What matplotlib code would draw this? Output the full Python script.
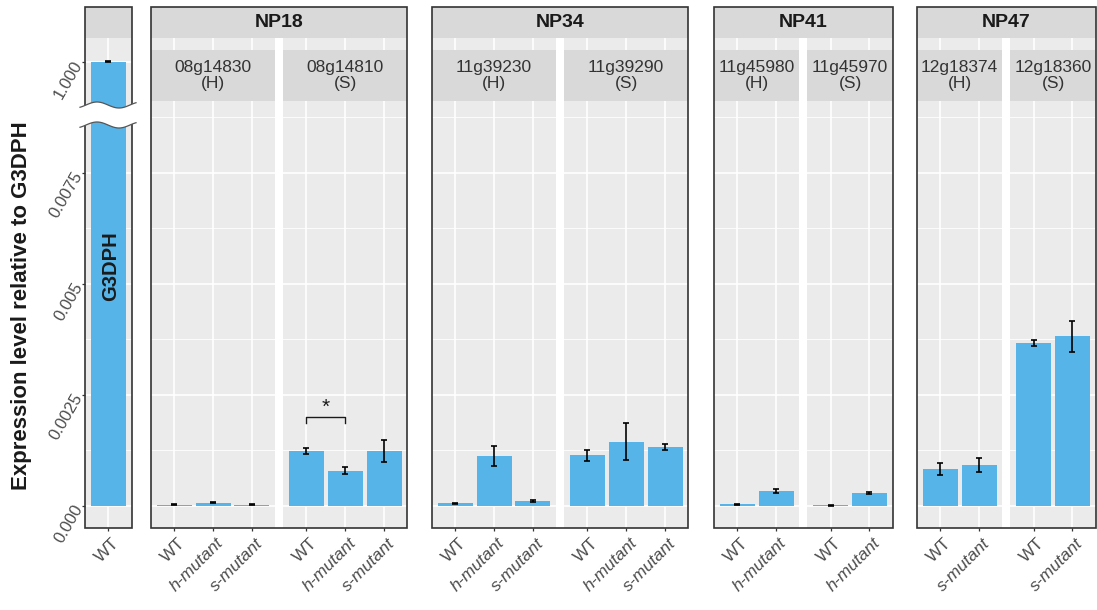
import numpy as np
import matplotlib
matplotlib.use("Agg")
import matplotlib.pyplot as plt
from matplotlib.patches import Rectangle, Polygon
from matplotlib.lines import Line2D
import matplotlib.transforms as mtransforms

plt.rcParams["font.family"] = ["Liberation Sans", "DejaVu Sans"]

# ---------------- data ----------------
ref_gene = "G3DPH"
ref_cats = ["WT"]
ref_vals = [1.0]
ref_errs = [0.0015]

groups = ["NP18", "NP34", "NP41", "NP47"]

np18_h_label = "08g14830\n(H)"
np18_h_cats = ["WT", "h-mutant", "s-mutant"]
np18_h_vals = [0.00002, 0.00006, 0.00002]
np18_h_errs = [0.00001, 0.00001, 0.00001]

np18_s_label = "08g14810\n(S)"
np18_s_cats = ["WT", "h-mutant", "s-mutant"]
np18_s_vals = [0.00123, 0.00078, 0.00123]
np18_s_errs = [0.00006, 0.00008, 0.00025]

np34_h_label = "11g39230\n(H)"
np34_h_cats = ["WT", "h-mutant", "s-mutant"]
np34_h_vals = [0.00005, 0.00112, 0.00010]
np34_h_errs = [0.00001, 0.00022, 0.00002]

np34_s_label = "11g39290\n(S)"
np34_s_cats = ["WT", "h-mutant", "s-mutant"]
np34_s_vals = [0.00113, 0.00144, 0.00132]
np34_s_errs = [0.00013, 0.00041, 0.00007]

np41_h_label = "11g45980\n(H)"
np41_h_cats = ["WT", "h-mutant"]
np41_h_vals = [0.00003, 0.00033]
np41_h_errs = [0.00001, 0.00004]

np41_s_label = "11g45970\n(S)"
np41_s_cats = ["WT", "h-mutant"]
np41_s_vals = [0.00001, 0.00028]
np41_s_errs = [0.00001, 0.00003]

np47_h_label = "12g18374\n(H)"
np47_h_cats = ["WT", "s-mutant"]
np47_h_vals = [0.00082, 0.00091]
np47_h_errs = [0.00013, 0.00015]

np47_s_label = "12g18360\n(S)"
np47_s_cats = ["WT", "s-mutant"]
np47_s_vals = [0.00366, 0.00381]
np47_s_errs = [0.00006, 0.00035]

y_ticks = [0.0, 0.0025, 0.005, 0.0075, 1.0]
y_tick_labels = ["0.000", "0.0025", "0.005", "0.0075", "1.000"]
y_minor = [0.00125, 0.00375, 0.00625, 0.00875]
y_label = "Expression level relative to G3DPH"

sig_pair = (1, 2)
sig_y = 0.00199
sig_text = "*"

# ---------------- style / layout ----------------
W, H, DPI = 1097, 610, 100
BLUE = "#56B4E9"
PANEL = "#EBEBEB"
STRIP = "#D9D9D9"
FRAME = "#333333"
TICKC = "#4D4D4D"

U = 38.8          # px per category unit
SUBGAP = 8
TOP, BOT, FTOP = 38, 528, 7
SUB_T, SUB_B = 50, 101
Y0PX, PXPU = 505.5, 44400.0

T = 0.009
C = 0.001 / 0.991


def fwd(y):
    y = np.asarray(y, dtype=float)
    return np.where(y <= T, y, T + (y - T) * C)


def inv(t):
    t = np.asarray(t, dtype=float)
    return np.where(t <= T, t, T + (t - T) / C)


ylo = float(inv((Y0PX - BOT) / PXPU))
yhi = float(inv((Y0PX - TOP) / PXPU))


def fx(x):
    return x / W


def fy(y):
    return 1 - y / H


fig = plt.figure(figsize=(W / DPI, H / DPI), dpi=DPI)


def make_axes(left_px, n):
    w = (n + 0.2) * U
    ax = fig.add_axes([fx(left_px), fy(BOT), w / W, (BOT - TOP) / H])
    ax.set_facecolor(PANEL)
    ax.set_yscale("function", functions=(fwd, inv))
    ax.set_ylim(ylo, yhi)
    ax.set_xlim(0.4, n + 0.6)
    for s in ax.spines.values():
        s.set_visible(False)
    ax.set_yticks(y_ticks)
    ax.set_yticks(y_minor, minor=True)
    ax.grid(which="major", color="white", lw=1.2, zorder=0)
    ax.grid(which="minor", axis="y", color="white", lw=0.6, zorder=0)
    ax.set_axisbelow(True)
    ax.tick_params(which="minor", length=0)
    ax.tick_params(axis="x", length=2.5, width=0.9, color=FRAME, pad=1.5)
    ax.tick_params(axis="y", left=False, labelleft=False)
    return ax, w


def draw_bars(ax, cats, vals, errs):
    x = np.arange(1, len(cats) + 1)
    ax.bar(x, vals, width=0.9, color=BLUE, zorder=2)
    ax.errorbar(x, vals, yerr=errs, fmt="none", ecolor="black",
                elinewidth=1.2, capsize=2.3, capthick=1.2, zorder=3)
    ax.set_xticks(x)
    ax.set_xticklabels(cats, rotation=45, ha="right", va="top",
                       rotation_mode="anchor", fontsize=12.5, color=TICKC)
    off = mtransforms.ScaledTranslation(3 / DPI, -2 / DPI, fig.dpi_scale_trans)
    for lab, c in zip(ax.get_xticklabels(), cats):
        if "mutant" in c:
            lab.set_fontstyle("italic")
        lab.set_transform(lab.get_transform() + off)


def frame(left, right):
    r = Rectangle((fx(left), fy(BOT)), (right - left) / W, (BOT - FTOP) / H,
                  fill=False, ec=FRAME, lw=1.2, transform=fig.transFigure, zorder=10)
    fig.add_artist(r)
    s = Rectangle((fx(left), fy(TOP)), (right - left) / W, (TOP - FTOP) / H,
                  fc=STRIP, ec="none", transform=fig.transFigure, zorder=5)
    fig.add_artist(s)


def substrip(left, right, label):
    s = Rectangle((fx(left), fy(SUB_B)), (right - left) / W, (SUB_B - SUB_T) / H,
                  fc=STRIP, ec="none", transform=fig.transFigure, zorder=5)
    fig.add_artist(s)
    fig.text(fx((left + right) / 2), fy((SUB_T + SUB_B) / 2), label, ha="center",
             va="center", fontsize=12.5, color="#333333", linespacing=1.1, zorder=6)


# ---------------- reference panel ----------------
ax0, w0 = make_axes(85, 1)
draw_bars(ax0, ref_cats, ref_vals, ref_errs)
ax0.tick_params(axis="y", left=True, labelleft=True, length=2.5, width=0.9,
                color=FRAME, pad=2)
ax0.set_yticklabels(y_tick_labels)
for lab in ax0.get_yticklabels():
    lab.set_rotation(60)
    lab.set_rotation_mode("anchor")
    lab.set_ha("right")
    lab.set_va("center")
    lab.set_fontsize(12)
    lab.set_color(TICKC)
frame(85, 85 + w0)
fig.text(fx(116), fy(266), ref_gene, rotation=90, rotation_mode="anchor",
         ha="center", va="baseline", fontsize=14.5, fontweight="bold",
         color="#1A1A1A", zorder=6)

# break marks
xs = np.linspace(80, 136, 60)
wave = -3 * np.sin(2 * np.pi * (xs - 86) / 44)
top_c = 105 + wave
bot_c = 125 + wave
poly = np.vstack([np.column_stack([xs, top_c]), np.column_stack([xs[::-1], bot_c[::-1]])])
poly_fig = np.column_stack([fx(poly[:, 0]), fy(poly[:, 1])])
fig.add_artist(Polygon(poly_fig, closed=True, fc="white", ec="none",
                       transform=fig.transFigure, zorder=11))
for cy in (top_c, bot_c):
    fig.add_artist(Line2D(fx(xs), fy(cy), color="#555555", lw=0.9,
                          transform=fig.transFigure, zorder=12))

# ---------------- gene panels ----------------
panel_sets = [
    ("NP18", 151, [(np18_h_label, np18_h_cats, np18_h_vals, np18_h_errs),
                   (np18_s_label, np18_s_cats, np18_s_vals, np18_s_errs)]),
    ("NP34", 432, [(np34_h_label, np34_h_cats, np34_h_vals, np34_h_errs),
                   (np34_s_label, np34_s_cats, np34_s_vals, np34_s_errs)]),
    ("NP41", 714, [(np41_h_label, np41_h_cats, np41_h_vals, np41_h_errs),
                   (np41_s_label, np41_s_cats, np41_s_vals, np41_s_errs)]),
    ("NP47", 917, [(np47_h_label, np47_h_cats, np47_h_vals, np47_h_errs),
                   (np47_s_label, np47_s_cats, np47_s_vals, np47_s_errs)]),
]

for gname, gleft, subs in panel_sets:
    left = gleft
    for i, (lab, cats, vals, errs) in enumerate(subs):
        ax, w = make_axes(left, len(cats))
        draw_bars(ax, cats, vals, errs)
        substrip(left, left + w, lab)
        if gname == "NP18" and i == 1:
            a, b = sig_pair
            ax.plot([a, a, b, b], [sig_y - 0.00014, sig_y, sig_y, sig_y - 0.00014],
                    color="#1A1A1A", lw=1.0, zorder=4)
            ax.text((a + b) / 2, sig_y + 0.00001, sig_text, ha="center", va="bottom",
                    fontsize=15, color="#1A1A1A", zorder=4)
        left = left + w + SUBGAP
    gright = left - SUBGAP
    frame(gleft, gright)
    fig.text(fx((gleft + gright) / 2), fy((FTOP + TOP) / 2), gname, ha="center",
             va="center", fontsize=14, fontweight="bold", color="#1A1A1A", zorder=6)

fig.text(fx(27), fy(306), y_label, rotation=90, rotation_mode="anchor",
         ha="center", va="baseline", fontsize=16, fontweight="bold", color="#1A1A1A")

fig.savefig("out.png", dpi=DPI, facecolor="white")
